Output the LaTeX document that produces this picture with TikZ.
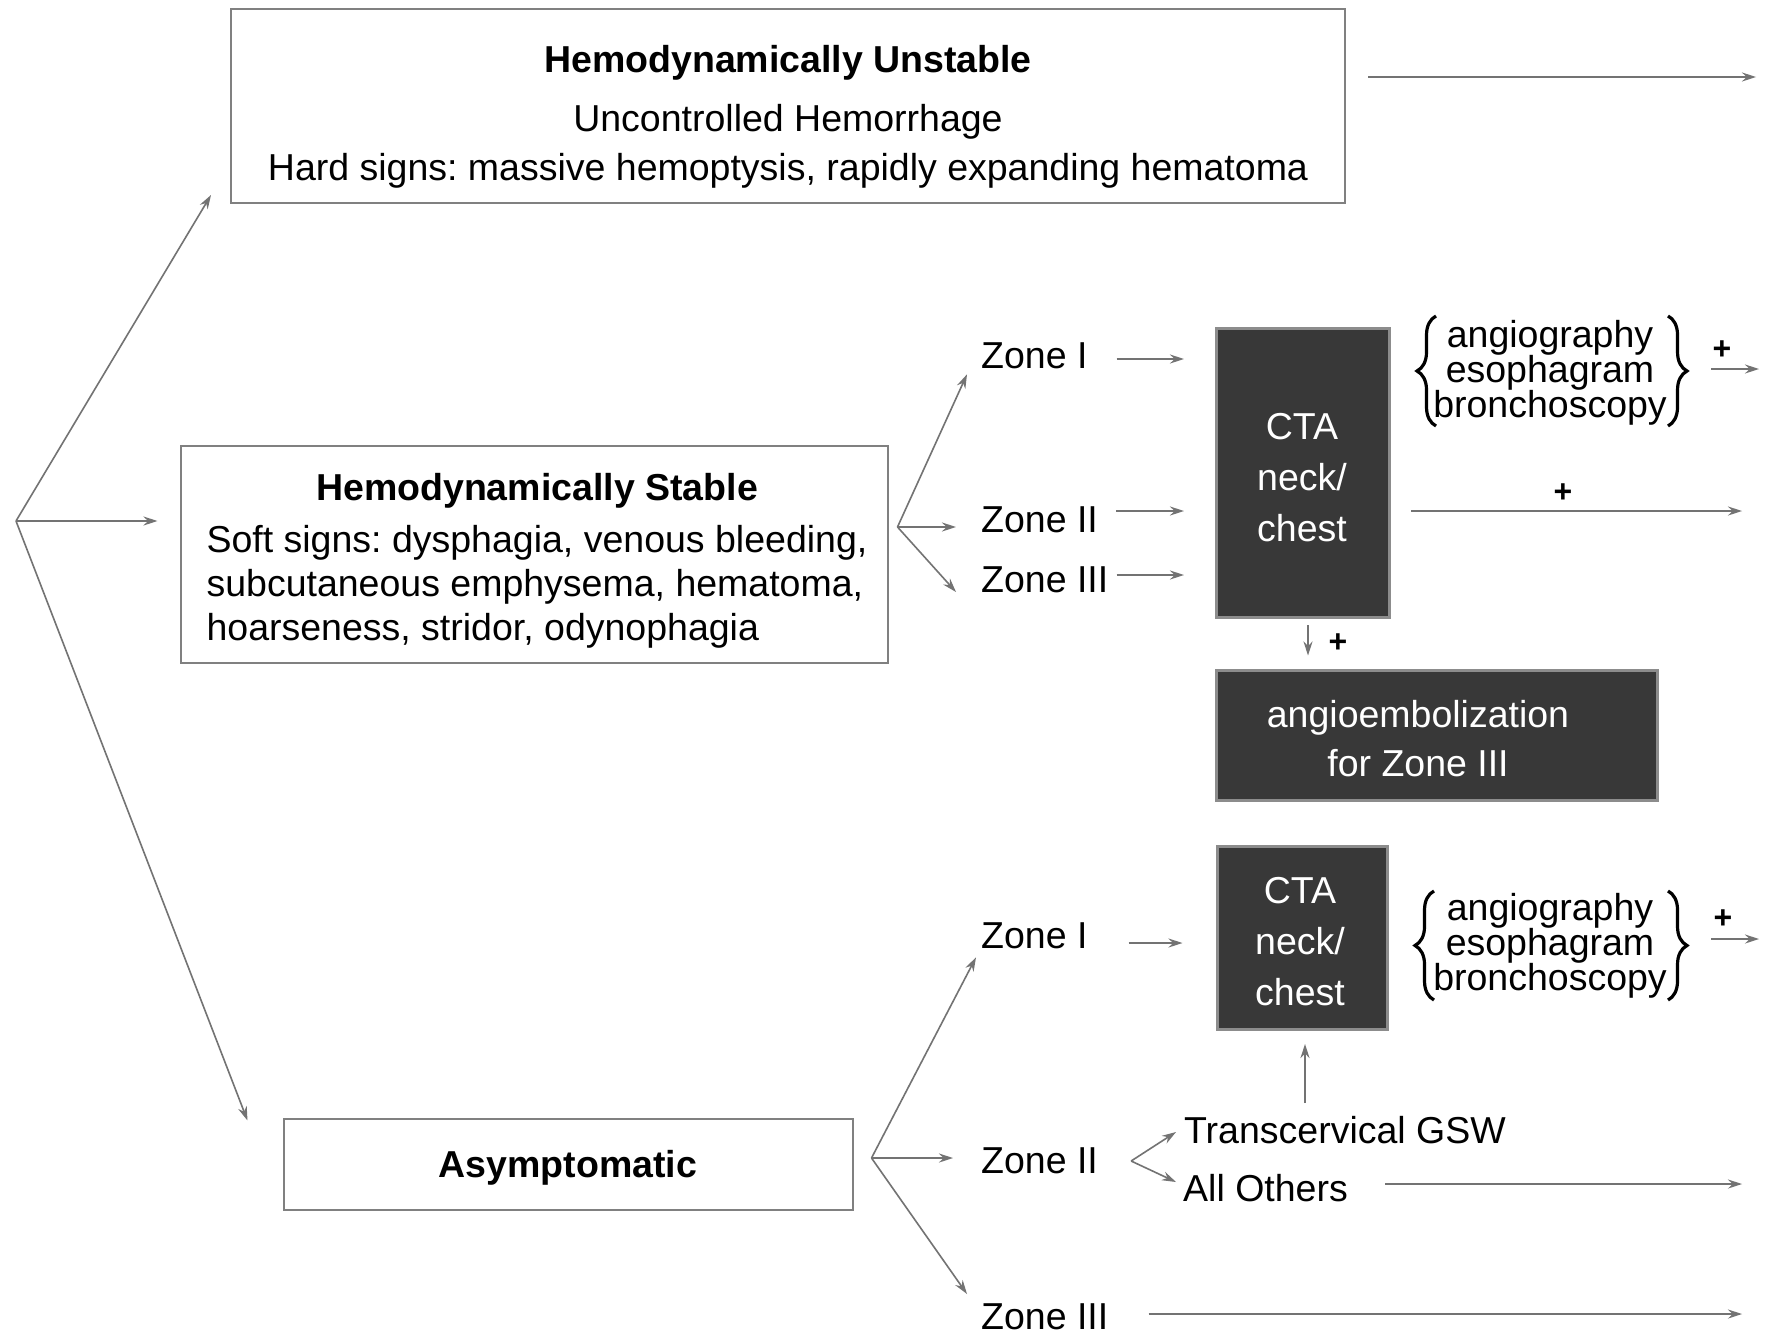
\documentclass[tikz,border=0pt]{standalone}
\usepackage{fontspec}
\setmainfont{Liberation Sans}
\usetikzlibrary{arrows.meta,calc,decorations.pathreplacing}
\frenchspacing
\newcommand{\tightlines}{\lineskiplimit-20pt\relax}
\tikzset{
  lbl/.style={font=\fontsize{37.5}{44}\selectfont, inner sep=0pt, text=black},
  framebox/.style={draw=black!50, line width=2pt, inner sep=0pt},
  darkbox/.style={draw=black!45, line width=3pt, fill=black!78, inner sep=0pt},
  darktext/.style={text=white, align=center, inner sep=0pt, font=\fontsize{37.5}{49}\selectfont},
  arr/.style={draw=black!55, line width=1.6pt, -{Stealth[length=14pt,width=9pt]}},
  plus/.style={font=\fontsize{32}{32}\selectfont\bfseries, inner sep=0pt},
  tests/.style={inner sep=0pt, align=center, font=\fontsize{37.5}{35}\selectfont\tightlines},
  lbrace/.style={draw=black, line width=3.2pt, decorate, decoration={brace, amplitude=19pt}},
}
\begin{document}
\begin{tikzpicture}[x=1pt,y=-1pt]
\useasboundingbox (0,0) rectangle (1768,1341);
\fill[white] (0,0) rectangle (1768,1341);

% main boxes
\node[framebox, minimum width=1114, minimum height=194] (unstable) at (788,106) {};
\node[lbl, align=center, font=\fontsize{37.5}{49}\selectfont] (unstabletext) at (788,117)
  {\textbf{Hemodynamically Unstable}\\[10pt]Uncontrolled Hemorrhage\\Hard signs: massive hemoptysis, rapidly expanding hematoma};

\node[framebox, minimum width=707, minimum height=217] (stable) at (534,554) {};
\node[lbl] (stabletext) at (537,562)
  {\begin{tabular}{@{}l@{}}\multicolumn{1}{@{}c@{}}{\bfseries Hemodynamically Stable}\\[8pt]
   Soft signs: dysphagia, venous bleeding,\\
   subcutaneous emphysema, hematoma,\\
   hoarseness, stridor, odynophagia\end{tabular}};

\node[framebox, minimum width=569, minimum height=91, text depth=0pt, font=\fontsize{37.5}{44}\selectfont\bfseries] (asymp) at (568,1164) {Asymptomatic};

% dark boxes
\node[darkbox, minimum width=173, minimum height=289] (cta1) at (1303,473) {};
\node[darktext, font=\fontsize{37.5}{51}\selectfont] (cta1text) at (1302,478) {CTA\\neck/\\chest};
\node[darkbox, minimum width=170, minimum height=183] (cta2) at (1302,938) {};
\node[darktext, font=\fontsize{37.5}{51}\selectfont] (cta2text) at (1300,942) {CTA\\neck/\\chest};
\node[darkbox, minimum width=441, minimum height=130] (angio) at (1437,735) {};
\node[darktext] (angiotext) at (1418,739) {angioembolization\\for Zone III};

% tests with braces
\node[tests] (tests1) at (1550,373) {angiography\\esophagram\\bronchoscopy};
\node[tests] (tests2) at (1550,946) {angiography\\esophagram\\bronchoscopy};
\coordinate (b1l) at (1436,426); \coordinate (b1t) at (1436,316);
\draw[lbrace] (b1l) -- (b1t);
\coordinate (b1r) at (1668,316); \coordinate (b1s) at (1668,426);
\draw[lbrace] (b1r) -- (b1s);
\coordinate (b2l) at (1434,1000); \coordinate (b2t) at (1434,891);
\draw[lbrace] (b2l) -- (b2t);
\coordinate (b2r) at (1668,891); \coordinate (b2s) at (1668,1000);
\draw[lbrace] (b2r) -- (b2s);

% zone labels
\node[lbl, anchor=west] (zs1) at (981,356) {Zone I};
\node[lbl, anchor=west] (zs2) at (981,520) {Zone II};
\node[lbl, anchor=west] (zs3) at (981,580) {Zone III};
\node[lbl, anchor=west] (za1) at (981,936) {Zone I};
\node[lbl, anchor=west] (za2) at (981,1161) {Zone II};
\node[lbl, anchor=west] (za3) at (981,1317) {Zone III};
\node[lbl, anchor=west] (trans) at (1184,1130) {Transcervical GSW};
\node[lbl, anchor=west] (others) at (1183,1188) {All Others};

% plus signs
\node[plus] (p1) at (1722,350) {+};
\node[plus] (p2) at (1563,493) {+};
\node[plus] (p3) at (1338,643) {+};
\node[plus] (p4) at (1723,919) {+};

% left fan
\coordinate (o) at (16,521);
\draw[arr] (o) -- ($(unstable.south west)+(-19,-9)$);
\draw[arr] (o) -- ($(stable.west)+(-22,-33)$);
\draw[arr] (o) -- ($(asymp.north west)+(-35,3)$);

% unstable out
\coordinate (ur) at (1756,77);
\draw[arr] ($(unstable.east)+(22,-29)$) -- (ur);

% stable fan
\coordinate (sf) at ($(stable.east)+(9,-27)$);
\draw[arr] (sf) -- ($(zs1.south west)+(-14,5)$);
\draw[arr] (sf) -- ($(zs2.west)+(-25,7)$);
\draw[arr] (sf) -- ($(zs3.west)+(-25,12)$);

\draw[arr] ($(zs1.east)+(29,3)$) -- ($(cta1.west |- zs1.east)+(-31,3)$);
\draw[arr] ($(zs2.east)+(18,-9)$) -- ($(cta1.west |- zs2.east)+(-31,-9)$);
\draw[arr] ($(zs3.east)+(8,-5)$) -- ($(cta1.west |- zs3.east)+(-31,-5)$);

\coordinate (t1s) at (1711,369);
\coordinate (t1e) at (1759,369);
\draw[arr] (t1s) -- (t1e);
\coordinate (c1r) at (1742,511);
\draw[arr] ($(cta1.east |- c1r)+(20,0)$) -- (c1r);
\draw[arr] ($(cta1.south)+(5,6)$) -- ($(cta1.south |- angio.north)+(5,-13)$);

% asymptomatic fan
\coordinate (af) at ($(asymp.east)+(18,-6)$);
\draw[arr] (af) -- ($(za1.south west)+(-5,8)$);
\draw[arr] (af) -- ($(za2.west)+(-28,-3)$);
\draw[arr] (af) -- ($(za3.west)+(-14,-23)$);

\draw[arr] ($(za1.east)+(41,7)$) -- ($(cta2.west |- za1.east)+(-33,7)$);
\coordinate (zf) at ($(za2.east)+(33,0)$);
\draw[arr] (zf) -- ($(trans.west)+(-8,2)$);
\draw[arr] (zf) -- ($(others.west)+(-7,-6)$);
\draw[arr] ($(trans.north -| cta2.south)+(3,-13)$) -- ($(cta2.south)+(3,13)$);
\coordinate (oe) at (1742,1184);
\draw[arr] ($(others.east)+(37,-4)$) -- (oe);
\coordinate (z3e) at (1742,1314);
\draw[arr] ($(za3.east)+(40,-3)$) -- (z3e);
\coordinate (t2s) at (1711,939);
\coordinate (t2e) at (1759,939);
\draw[arr] (t2s) -- (t2e);
\end{tikzpicture}
\end{document}
